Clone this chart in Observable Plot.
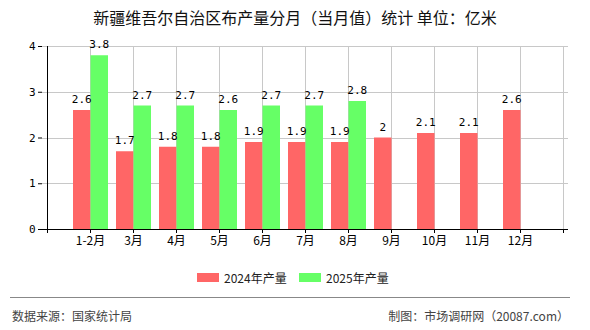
<!DOCTYPE html>
<html>
<head>
<meta charset="utf-8">
<script src="https://cdn.jsdelivr.net/npm/d3@7"></script>
<script src="https://cdn.jsdelivr.net/npm/@observablehq/plot@0.6"></script>
<style>
  html, body { margin: 0; padding: 0; background: #fff; }
  #wrap { position: relative; width: 590px; height: 330px; overflow: hidden; font-family: "Noto Sans CJK SC", sans-serif; }
  #title { position: absolute; left: 0; top: 0; width: 590px; height: 34px; line-height: 34px; text-align: center; font-size: 16px; color: #111; }
  #chart { position: absolute; left: 0; top: 34px; }
  #legend { position: absolute; left: 0; top: 268px; width: 590px; height: 20px; }
  .sw { position: absolute; top: 5px; width: 22px; height: 9px; }
  .lt { position: absolute; top: 0; line-height: 19px; font-size: 12px; color: #222; }
  #rule { position: absolute; left: 10px; top: 297px; width: 560px; height: 0; border-top: 1px solid #888; }
  .foot { position: absolute; top: 306px; line-height: 20px; font-size: 12px; color: #444; }
</style>
</head>
<body>
<div id="wrap">
  <div id="title">新疆维吾尔自治区布产量分月（当月值）统计 单位：亿米</div>
  <div id="chart"></div>
  <div id="legend">
    <div class="sw" style="left:197px;background:#ff6666"></div>
    <div class="lt" style="left:224px">2024年产量</div>
    <div class="sw" style="left:299px;background:#66ff66"></div>
    <div class="lt" style="left:326px">2025年产量</div>
  </div>
  <div id="rule"></div>
  <div class="foot" style="left:12px">数据来源：国家统计局</div>
  <div class="foot" style="right:21px">制图：市场调研网（20087.com）</div>
</div>
<script>
const months = ["1-2月", "3月", "4月", "5月", "6月", "7月", "8月", "9月", "10月", "11月", "12月"];
const values2024 = [2.6, 1.7, 1.8, 1.8, 1.9, 1.9, 1.9, 2, 2.1, 2.1, 2.6];
const values2025 = [3.8, 2.7, 2.7, 2.6, 2.7, 2.7, 2.8];
const yTicks = [0, 1, 2, 3, 4];
const color2024 = "#ff6666";
const color2025 = "#66ff66";

const s2024 = values2024.map((v, i) => ({month: months[i], value: v}));
const s2025 = values2025.map((v, i) => ({month: months[i], value: v}));
const xDomain = ["", ...months, " "];

const barW = 17.5;
const labelFont = "DejaVu Sans Mono, monospace";

const chart = Plot.plot({
  width: 590,
  height: 222,
  marginLeft: 42,
  marginRight: 22,
  marginTop: 12,
  marginBottom: 27,
  style: {fontFamily: "Noto Sans CJK SC, sans-serif", fontSize: "12px", color: "#000", background: "transparent"},
  x: {type: "point", domain: xDomain, padding: 0},
  y: {domain: [0, 4]},
  marks: [
    Plot.ruleX(xDomain.slice(1), {stroke: "#c8c8c8", strokeWidth: 1, shapeRendering: "crispEdges"}),
    Plot.ruleY(yTicks.slice(1), {stroke: "#c8c8c8", strokeWidth: 1, shapeRendering: "crispEdges"}),
    Plot.ruleX(s2024, {x: "month", y1: 0, y2: "value", stroke: color2024, strokeWidth: barW, dx: -barW / 2}),
    Plot.ruleX(s2025, {x: "month", y1: 0, y2: "value", stroke: color2025, strokeWidth: barW, dx: barW / 2}),
    Plot.text(s2024, {x: "month", y: "value", text: d => String(d.value), dx: -barW / 2, dy: -11, fontFamily: labelFont, fontSize: 11, fill: "#000"}),
    Plot.text(s2025, {x: "month", y: "value", text: d => String(d.value), dx: barW / 2, dy: -11, fontFamily: labelFont, fontSize: 11, fill: "#000"}),
    Plot.ruleY([0], {stroke: "#000", shapeRendering: "crispEdges"}),
    Plot.ruleX([xDomain[0]], {stroke: "#000", shapeRendering: "crispEdges"}),
    Plot.axisX({ticks: xDomain, tickSize: 4, tickPadding: 3, tickFormat: d => d.trim(), label: null, stroke: "#000"}),
    Plot.axisY({ticks: yTicks, tickSize: 4, tickPadding: 3, tickFormat: d => String(d), label: null, fontFamily: labelFont, fontSize: 11})
  ]
});
document.getElementById("chart").appendChild(chart);
</script>
</body>
</html>
